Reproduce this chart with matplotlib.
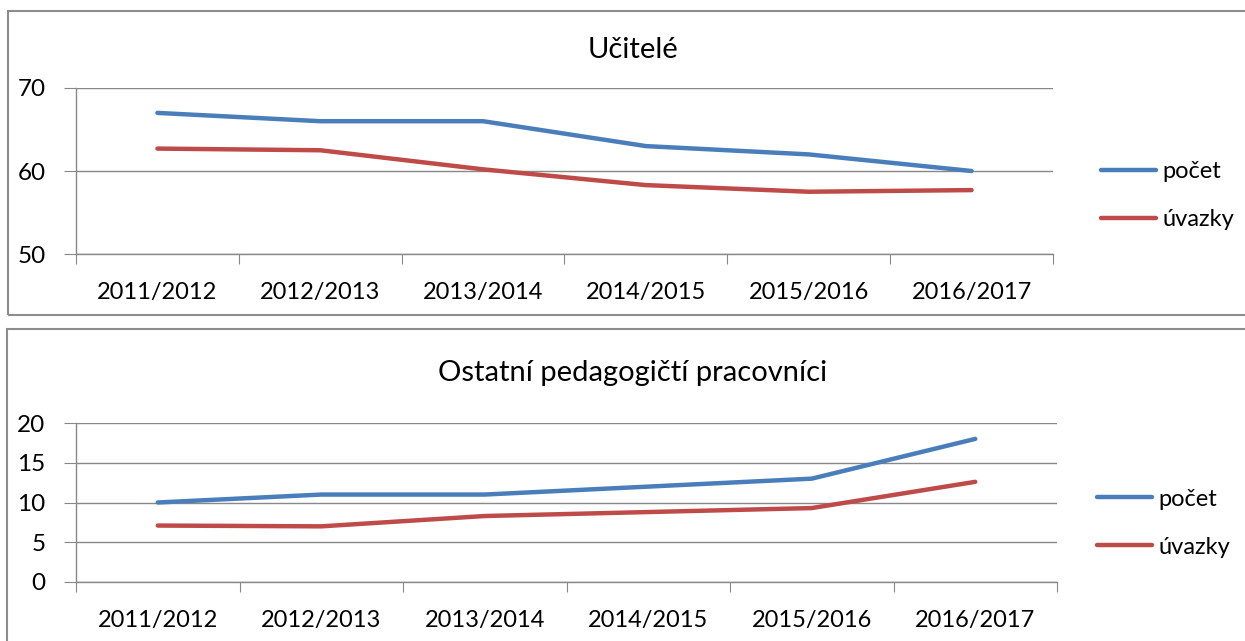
import matplotlib
matplotlib.use("Agg")
import matplotlib.pyplot as plt
from matplotlib.patches import Rectangle
from matplotlib.lines import Line2D

plt.rcParams['font.family'] = ['Lato', 'DejaVu Sans']

years = ["2011/2012", "2012/2013", "2013/2014", "2014/2015", "2015/2016", "2016/2017"]
ucitele_pocet = [67, 66, 66, 63, 62, 60]
ucitele_uvazky = [62.7, 62.5, 60.2, 58.3, 57.5, 57.7]
ostatni_pocet = [10, 11, 11, 12, 13, 18]
ostatni_uvazky = [7.1, 7.0, 8.3, 8.8, 9.3, 12.6]
series_names = ["počet", "úvazky"]
titles = ["Učitelé", "Ostatní pedagogičtí pracovníci"]

BLUE = "#4A7EBB"
RED = "#BE4B48"
GRID = "#888888"

W, H = 1245, 641
fig = plt.figure(figsize=(W / 100, H / 100), dpi=100)


def px_axes(x0, y0, x1, y1):
    return fig.add_axes([x0 / W, 1 - y1 / H, (x1 - x0) / W, (y1 - y0) / H])


def panel(box, axbox, pocet, uvazky, title, ylim, yticks, title_y, leg_x, leg_y1, leg_y2):
    bx0, by0, bx1, by1 = box
    fig.add_artist(Rectangle((bx0 / W, 1 - by1 / H), (bx1 - bx0) / W, (by1 - by0) / H,
                             transform=fig.transFigure, fill=False, edgecolor="#8c8c8c", lw=1.5))
    ax = px_axes(*axbox)
    x = list(range(len(years)))
    ax.plot(x, pocet, color=BLUE, lw=3.2, solid_capstyle="round", solid_joinstyle="round")
    ax.plot(x, uvazky, color=RED, lw=3.2, solid_capstyle="round", solid_joinstyle="round")
    ax.set_xlim(-0.5, len(years) - 0.5)
    ax.set_ylim(*ylim)
    ax.set_yticks(yticks)
    ax.set_yticklabels([str(v) for v in yticks])
    ax.yaxis.grid(True, color=GRID, lw=1)
    ax.set_axisbelow(True)
    ax.set_xticks([i - 0.5 for i in range(len(years) + 1)])
    ax.set_xticklabels([])
    ax.set_xticks(x, minor=True)
    ax.set_xticklabels(years, minor=True)
    ax.tick_params(axis="x", which="major", length=7, color=GRID, direction="out")
    ax.tick_params(axis="x", which="minor", length=0, pad=20, labelsize=17)
    ax.tick_params(axis="y", length=9, color=GRID, pad=13, labelsize=17.5)
    for s in ["top", "right"]:
        ax.spines[s].set_visible(False)
    for s in ["left", "bottom"]:
        ax.spines[s].set_color(GRID)
        ax.spines[s].set_linewidth(1)
    fig.text(633 / W, 1 - title_y / H, title, ha="center", va="center", fontsize=21)
    for ly, col, name in [(leg_y1, BLUE, series_names[0]), (leg_y2, RED, series_names[1])]:
        fig.add_artist(Line2D([leg_x / W, (leg_x + 55) / W], [1 - ly / H, 1 - ly / H],
                              transform=fig.transFigure, color=col, lw=3.2, solid_capstyle="round"))
        fig.text((leg_x + 61) / W, 1 - (ly + 2) / H, name, ha="left", va="center", fontsize=17)
    return ax


panel((8, 11, 1262, 315), (76, 88, 1053, 254), ucitele_pocet, ucitele_uvazky, titles[0],
      (50, 70), [50, 60, 70], 50, 1101, 170, 218)
panel((7, 329, 1262, 660), (76, 423, 1057, 582), ostatni_pocet, ostatni_uvazky, titles[1],
      (0, 20), [0, 5, 10, 15, 20], 373, 1097, 497, 545)

fig.savefig("out.png", dpi=100)
